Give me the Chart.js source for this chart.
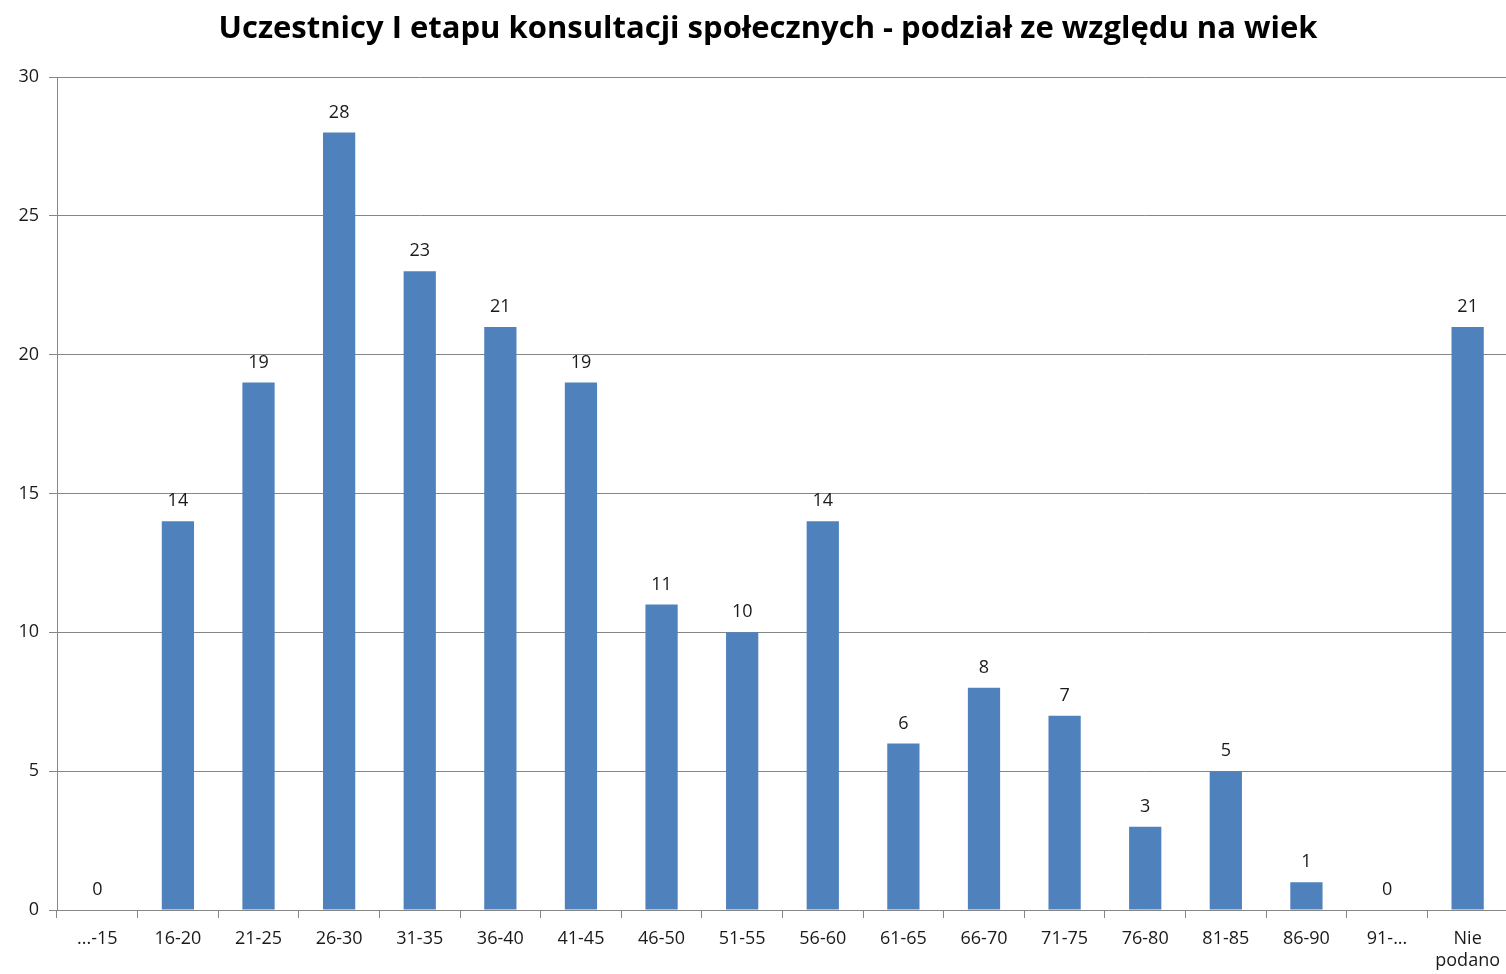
<!DOCTYPE html>
<html>
<head>
<meta charset="utf-8">
<script src="https://cdn.jsdelivr.net/npm/chart.js@4"></script>
<style>
  html, body { margin: 0; padding: 0; background: #fff; overflow: hidden; }
  #wrap { width: 1510px; height: 974px; }
</style>
</head>
<body>
<div id="wrap"><canvas id="myChart"></canvas></div>
<script>
// dane z wykresu
var kategorie = ['...-15', '16-20', '21-25', '26-30', '31-35', '36-40', '41-45', '46-50', '51-55',
    '56-60', '61-65', '66-70', '71-75', '76-80', '81-85', '86-90', '91-...', ['Nie', 'podano']];
var uczestnicy = [0, 14, 19, 28, 23, 21, 19, 11, 10, 14, 6, 8, 7, 3, 5, 1, 0, 21];
var tytul = 'Uczestnicy I etapu konsultacji społecznych - podział ze względu na wiek';

var fontRodzina = '"Open Sans", "DejaVu Sans", sans-serif';

// tytul rysowany recznie, zeby ustawic go tak jak w oryginale
var tytulPlugin = {
    id: 'tytul',
    afterDraw: function(chart) {
        var ctx = chart.ctx;
        ctx.save();
        ctx.font = 'bold 31px ' + fontRodzina;
        ctx.fillStyle = '#000';
        ctx.textAlign = 'center';
        ctx.textBaseline = 'middle';
        ctx.fillText(tytul, 768, 29);
        ctx.restore();
    }
};

// etykiety wartosci nad slupkami
var etykietyPlugin = {
    id: 'etykiety',
    afterDatasetsDraw: function(chart) {
        var ctx = chart.ctx;
        var meta = chart.getDatasetMeta(0);
        ctx.save();
        ctx.font = '18px ' + fontRodzina;
        ctx.fillStyle = '#1a1a1a';
        ctx.textAlign = 'center';
        ctx.textBaseline = 'middle';
        meta.data.forEach(function(bar, i) {
            ctx.fillText(uczestnicy[i], bar.x, bar.y - 20);
        });
        ctx.restore();
    }
};

var ctx = document.getElementById('myChart').getContext('2d');
var myChart = new Chart(ctx, {
    type: 'bar',
    data: {
        labels: kategorie,
        datasets: [{
            label: 'Uczestnicy',
            data: uczestnicy,
            backgroundColor: '#4F81BD',
            borderWidth: 0,
            categoryPercentage: 0.8,
            barPercentage: 0.5
        }]
    },
    options: {
        responsive: true,
        maintainAspectRatio: false,
        animation: false,
        layout: { padding: { left: 0, right: 0, top: 77, bottom: 0 } },
        plugins: {
            legend: { display: false },
            tooltip: { enabled: false },
            title: { display: false }
        },
        scales: {
            x: {
                grid: {
                    drawOnChartArea: false,
                    color: '#868686',
                    tickLength: 8,
                    offset: true
                },
                border: { color: '#868686', width: 1 },
                ticks: {
                    color: '#1a1a1a',
                    font: { family: fontRodzina, size: 18 },
                    maxRotation: 0,
                    autoSkip: false,
                    padding: 10
                },
                afterFit: function(scale) { scale.height = 64; }
            },
            y: {
                min: 0,
                max: 30,
                ticks: {
                    stepSize: 5,
                    color: '#1a1a1a',
                    font: { family: fontRodzina, size: 18 },
                    padding: 10
                },
                grid: {
                    color: '#868686',
                    tickLength: 8
                },
                border: { color: '#868686', width: 1 },
                afterFit: function(scale) { scale.width = 57; }
            }
        }
    },
    plugins: [tytulPlugin, etykietyPlugin]
});
</script>
</body>
</html>
